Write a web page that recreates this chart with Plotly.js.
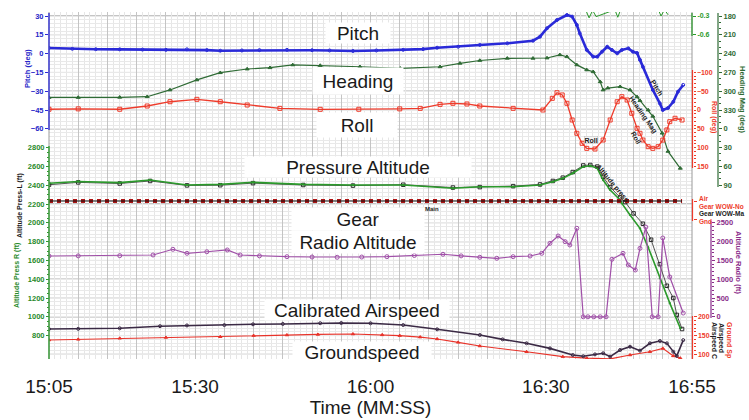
<!DOCTYPE html>
<html><head><meta charset="utf-8">
<script src="https://cdn.plot.ly/plotly-3.0.1.min.js"></script>
<style>html,body{margin:0;padding:0;background:#fff}#chart{width:749px;height:420px}</style>
</head><body><div id="chart"></div>
<script>
// ---------------- DATA (time in seconds: 905 = 15:05) ----------------
const xTickVals = [905, 930, 960, 990, 1015];
const xTickText = ['15:05', '15:30', '16:00', '16:30', '16:55'];

const pitchT = [905,909,913,917.1,921,925,928.6,932,934.3,938,941,945.7,950,953,957,961,965.6,969,971.4,975,978.7,983.4,987.8,989,990.2,991.9,993.6,994.5,995.3,995.8,997,998.1,998.8,999.6,1000.5,1001.3,1002.2,1003,1004.1,1004.9,1005.6,1006.1,1006.6,1008.3,1009.5,1010,1010.9,1011.8,1012.6,1013.5];
const pitchV = [4.5,3.8,3.5,3.4,3.2,3.0,3.4,2.8,2.3,2.5,2.8,3.0,2.7,2.5,2.1,2.5,3.0,3.6,4.7,5.5,6.9,8.2,10.3,13.5,20.2,26.8,30.8,29.5,22.8,16.2,2.9,-2.5,-2.5,1.5,5.5,2.9,0.2,2.9,4.2,1.5,0.5,-5,-10.5,-29,-39.7,-45,-43.4,-38.4,-30.4,-25];

const hdgT = [905,910,917.1,921.8,925.7,930.3,934.3,938.9,942.8,946.7,951.4,958.2,965.1,971.9,975.3,978.7,983.4,987.8,990.2,992.4,993.6,995.3,997,998.1,999.3,999.8,1000.6,1002.7,1004.4,1005.6,1006.1,1007.5,1008.3,1009.9,1010.9,1013];
const hdgV = [310,310,309.7,308.8,298,282,270.5,264.6,262.5,258,259,261,263.5,261,255.5,251,247.5,247.5,247,242,245,258,266,269,285,298,295,292.8,298,309,315,330,340,367,396,423];

const rollT = [905,910,917.1,921.8,925.7,930.3,934.3,938.9,944.5,951.4,958,965,968.5,971.9,974.1,976.5,978.7,984.4,989.5,991.1,991.9,992.8,993.6,994.5,995.3,996.2,997,998.4,999.8,1001,1002.2,1003,1003.9,1004.7,1005.6,1006.1,1006.6,1007.5,1008.3,1009.2,1010,1010.7,1011.2,1012.1,1013.3];
const rollV = [-2,-3,-2,-10.6,-22,-28.4,-22,-13.3,-4.4,-1.8,-2,-3,-4.4,-15,-17.8,-16,-10.6,-4.4,0,-31,-46,-40,-17.8,26.6,62,88.6,102,103.7,79.8,26.6,-22,-35.4,-26.6,8.8,48.7,62,79.8,97.6,102,97.6,80,53,31,22,26.6];

const accT = [996.8,997.4,998,998.6,1001.8,1002.3,1002.8,1009.2,1009.7,1010.3,1010.9];
const accV = [-0.2,-0.33,-0.21,-0.31,-0.2,-0.32,-0.2,-0.19,-0.3,-0.2,-0.28];

const presRT = [905,910,917.1,922.3,928.6,934.3,939.9,948.5,957,965.6,974.1,978.7,984.4,989,991.2,992.9,994.6,996.4,997.6,998.8,999.8,1001,1002.7,1003,1004.4,1006.1,1007.5,1009.5,1011.2,1013];
const presRV = [2420,2440,2427,2455,2402,2409,2431,2409,2402,2402,2367,2384,2384,2402,2437,2473,2527,2597,2607,2580,2455,2349,2243,2207,2083,1941,1740,1412,1146,878];
const presLT = [905,910,917.1,922.3,928.6,934.3,939.9,948.5,957,965.6,974.1,978.7,984.4,989,991.2,992.9,994.6,996.4,997.6,998.8,999.8,1001,1002.7,1003.6,1005,1006.6,1008,1009.5,1010.7,1011.8,1012.4,1013.3];
const presLV = [2405,2430,2418,2445,2398,2400,2422,2402,2396,2405,2375,2380,2390,2408,2445,2480,2540,2610,2615,2598,2490,2380,2270,2220,2100,1990,1820,1560,1330,1200,1020,870];

const gearT = [905, 1013.3];
const gearNose = [1, 1];
const gearMain = [1, 1];

const radT = [905,910,917.1,922.8,926.2,928.6,932,935.5,937.7,941,945.7,950,954.3,958.5,962.8,967.5,972.4,975.5,978.7,981.6,984.4,987.3,989.3,990.7,992.1,993.3,994.1,995.3,996.4,997.2,998.2,999.3,1000.3,1001.3,1003.2,1004.1,1005.3,1006.1,1007.1,1008.2,1009.2,1010,1011.2,1013.5];
const radV = [1617,1620,1626,1644,1796,1689,1730,1777,1644,1620,1599,1590,1583,1590,1599,1630,1663,1620,1583,1556,1599,1617,1689,1955,2149,1998,1910,2354,0,0,0,0,0,1530,1689,1378,1245,1822,2386,0,0,2096,1059,100];

const casT = [905,910,917.1,924,928.6,935,939.9,945,951.4,955,960,965.6,971.4,978.7,982.6,986.7,990.7,994.6,996.4,998.4,999.8,1001,1002.7,1004.4,1006.1,1007.8,1009.5,1010.7,1011.8,1012.4,1013.5];
const casV = [167.5,168,169.4,175,177,178,180,181,183,183.5,182.7,178,166.7,151.6,140,129.5,116,98.4,95,100,103,94,111.7,120.5,110,129.5,135.6,129.5,107,96,138];

const gsT = [905,910,917.1,925,934.3,940,945.7,951,957,962,965,968.5,971.4,975,978.7,986.7,992.9,997,1001,1004.4,1007.8,1010,1011.8,1013];
const gsV = [138.3,140,142.8,145,147,150,151.6,153,154.2,152,150,146,141,132,122.3,107,94,90,88,98.4,107,116,96,90];

// ---------------- LAYOUT HELPERS ----------------
const PT = 12, PB = 359, PL = 49, PR = 692, PW = 696, PH = 347;
function rangeFor(v0, p0, v1, p1) { const s = (v1 - v0) / (p1 - p0); return [v0 + s * (PB - p0), v0 + s * (PT - p0)]; }
function px(x) { return (x - PL) / PW; }
function py(y) { return (PB - y) / PH; }
const FONT = 'Liberation Sans, Arial, sans-serif';
function tf(color, size) { return {family: FONT, size: size || 7.5, color: color, weight: 'bold'}; }
function steps(a, b, st, skip) { const o = []; for (let v = a; v <= b + 1e-9; v += st) { if (!skip || Math.abs(((v - a) / skip) - Math.round((v - a) / skip)) > 1e-6) o.push(+v.toFixed(4)); } return o; }

const C = {
  pitch: '#2a2ad8', pitchT: '#2626c8', hdg: '#2f6b35', roll: '#ee3b2b', acc: '#2a9a2a', pres: '#2b9a2b', presT: '#2a8a2a',
  presL: '#2a2a2a', gear: '#b01515', rad: '#a050a8', radT: '#8a2d8a', cas: '#3b2a45', gs: '#e8332a'
};

function yax(o) {
  return Object.assign({overlaying: 'y', anchor: 'free', showgrid: false, zeroline: false, showline: false,
    ticks: 'outside', ticklen: 3, tickwidth: 1, tickmode: 'array', fixedrange: true}, o);
}
function minor(vals, color) { return {tickmode: 'array', tickvals: vals, ticks: 'outside', ticklen: 2, tickcolor: color, showgrid: false}; }

const xGridVals = steps(905, 1015, 5);
const xGridText = xGridVals.map(v => { const i = xTickVals.indexOf(v); return i >= 0 ? xTickText[i] : ''; });
const hdgTicks = steps(180, 450, 30);
const hdgText = hdgTicks.map(v => String(v % 360));

function tr(x, y, yaxis, color, width, symbol, msize, extra) {
  return Object.assign({type: 'scatter', mode: 'lines+markers', x: x, y: y, xaxis: 'x', yaxis: yaxis,
    line: {color: color, width: width}, marker: {symbol: symbol, size: msize, color: color, line: {color: color, width: 1}},
    hoverinfo: 'skip', showlegend: false}, extra || {});
}

const data = [
  tr(pitchT, pitchV, 'y', C.pitch, 2.6, 'circle-open', 3),
  tr(gearT, gearNose, 'y8', C.gear, 4, 'circle', 1, {mode: 'lines', line: {color: C.gear, width: 4, dash: 'dot'}}),
  tr(gearT, gearMain, 'y8', '#111', 1.2, 'circle', 1, {mode: 'lines'}),
  tr(gsT, gsV, 'y10', C.gs, 1.2, 'triangle-up', 3),
  tr(casT, casV, 'y10', C.cas, 1.6, 'circle-open', 3),
  tr(radT, radV, 'y9', C.rad, 1.2, 'circle-open', 4),
  tr(presLT, presLV, 'y7', C.presL, 0.8, 'square-open', 3.5),
  tr(presRT, presRV, 'y7', C.pres, 1.6, 'circle', 1.5),
  tr(accT, accV, 'y6', C.acc, 1, 'circle', 1, {mode: 'lines'}),
  tr(rollT, rollV, 'y5', C.roll, 1.3, 'square-open', 4),
  tr(hdgT, hdgV, 'y4', C.hdg, 1.2, 'triangle-up', 3.5)
];

const layout = {
  width: 749, height: 420,
  margin: {l: PL, r: 749 - PL - PW, t: PT, b: 420 - PB},
  paper_bgcolor: '#fff', plot_bgcolor: '#fff',
  showlegend: false,
  font: {family: FONT, color: '#1a1a1a'},
  xaxis: {
    domain: [0, (PR - PL) / PW], range: [905, 1015], fixedrange: true,
    tickmode: 'array', tickvals: xGridVals, ticktext: xGridText,
    ticks: '', ticklabelstandoff: 14, tickfont: {family: FONT, size: 19, color: '#1a1a1a'},
    showgrid: true, gridcolor: '#c4c4c4', gridwidth: 1,
    minor: {tickmode: 'linear', tick0: 905, dtick: 1, showgrid: true, gridcolor: '#e6e6e6', gridwidth: 1, ticks: ''},
    zeroline: false, showline: false,
    title: {text: 'Time (MM:SS)', font: {family: FONT, size: 19, color: '#1a1a1a'}, standoff: 4}
  },
  yaxis: {
    domain: [0, 1], anchor: 'x', side: 'left', range: rangeFor(30, 16, -60, 128.8), fixedrange: true,
    tickmode: 'array', tickvals: [30, 15, 0, -15, -30, -45, -60], ticks: 'outside', ticklen: 3, tickcolor: C.pitch,
    tickfont: tf(C.pitchT), showgrid: false,
    minor: {tickmode: 'linear', tick0: 0, dtick: 3, showgrid: true, gridcolor: '#e9e9e9', gridwidth: 1, ticks: ''},
    zeroline: false, showline: false
  },
  yaxis4: yax({side: 'right', position: px(718), range: rangeFor(180, 16, 450, 185.2),
    tickvals: hdgTicks, ticktext: hdgText, tickcolor: C.hdg, tickfont: tf(C.hdg),
    minor: minor(steps(180, 450, 10, 30), C.hdg)}),
  yaxis5: yax({side: 'right', position: px(692.5), range: rangeFor(-100, 72.4, 150, 166.4), ticklen: 2,
    tickvals: [-100, -50, 0, 50, 100, 150], tickcolor: C.roll, tickfont: tf(C.roll, 7),
    minor: minor(steps(-100, 150, 10, 50), C.roll)}),
  yaxis6: yax({side: 'right', position: px(692), range: rangeFor(-0.3, 16, -0.6, 34.8),
    tickvals: [-0.3, -0.6], ticktext: ['-0.3', '-0.6'], tickcolor: C.acc, tickfont: tf(C.acc, 7)}),
  yaxis7: yax({side: 'left', position: 0, range: rangeFor(2800, 147.6, 800, 335.6),
    tickvals: steps(800, 2800, 200), tickcolor: C.pres, tickfont: tf(C.presT),
    minor: minor(steps(800, 2800, 50, 200), C.pres)}),
  yaxis8: yax({side: 'right', position: px(692.5), range: rangeFor(1, 201, 0, 219),
    tickvals: [1, 0], showticklabels: false, ticklen: 3, tickcolor: C.roll}),
  yaxis9: yax({side: 'right', position: px(711), range: rangeFor(2500, 222.8, 0, 316.8),
    tickvals: steps(0, 2500, 500), tickcolor: C.radT, tickfont: tf(C.radT),
    minor: minor(steps(0, 2500, 100, 500), C.radT)}),
  yaxis10: yax({side: 'right', position: px(692.5), range: rangeFor(200, 316.8, 100, 354.4),
    tickvals: [200, 150, 100], tickcolor: C.roll, tickfont: tf(C.roll, 7),
    minor: minor(steps(100, 200, 10, 50), C.roll)})
};

function vline(x, y0, y1, color, w) { return {type: 'line', xref: 'paper', yref: 'paper', x0: px(x), x1: px(x), y0: py(y0), y1: py(y1), line: {color: color, width: w || 1}}; }
const shapes = [];
for (let k = 0; k <= 18; k++) {
  const yy = 16 + k * 18.8;
  shapes.push({type: 'line', layer: 'between', xref: 'paper', yref: 'paper', x0: 0, x1: px(692), y0: py(yy), y1: py(yy),
    line: {color: k % 2 === 0 ? '#b2b2b2' : '#cbcbcb', width: k % 2 === 0 ? 1.3 : 1}});
}
shapes.push(
  vline(49, 12, 359, '#9a9a9a'),
  vline(692, 12, 359, '#9a9a9a'),
  vline(49, 13, 130, C.pitch, 1.3),
  vline(49, 146, 359, C.pres, 1.3),
  vline(692, 13, 36, C.acc, 1.2),
  vline(718, 13, 187, C.hdg, 1.2),
  vline(692.5, 70, 168, C.roll, 1.2),
  vline(692.5, 199, 221, C.roll, 1.2),
  vline(711, 221, 318, C.radT, 1.2),
  vline(692.5, 316, 359, C.roll, 1.2)
);
layout.shapes = shapes;

function box(text, cx, cy, w, h) {
  return {text: text, xref: 'paper', yref: 'paper', x: px(cx), y: py(cy), xanchor: 'center', yanchor: 'middle',
    showarrow: false, bgcolor: '#ffffff', width: w, height: h, borderpad: 0,
    font: {family: FONT, size: 19, color: '#1a1a1a'}};
}
function lab(text, cx, cy, color, size, angle, extra) {
  return Object.assign({text: text, xref: 'paper', yref: 'paper', x: px(cx), y: py(cy), xanchor: 'center', yanchor: 'middle',
    showarrow: false, textangle: angle || 0, font: tf(color, size)}, extra || {});
}
layout.annotations = [
  box('Pitch', 358, 33, 64, 20),
  box('Heading', 358, 81, 90, 26),
  box('Roll', 357, 125, 80, 24),
  box('Pressure Altitude', 358, 167, 226, 20),
  box('Gear', 358, 219, 132, 22),
  box('Radio Altitude', 358, 242, 132, 22),
  box('Calibrated Airspeed', 357, 310, 184, 20),
  box('Groundspeed', 362, 352, 138, 20),
  lab('Pitch (deg)', 27, 68, C.pitchT, 7.5, -90),
  lab('Altitude Press-L (ft)', 20, 206, '#1a1a1a', 7, -90),
  lab('Altitude Press R (ft)', 17, 276, C.presT, 7, -90),
  lab('Heading Mag (deg)', 743, 100, C.hdg, 7.5, 90),
  lab('Roll (deg)', 714, 117, C.roll, 7, 90),
  lab('Altitude Radio (ft)', 739, 262, C.radT, 7.5, 90),
  lab('Airspeed C', 714, 340, '#1a1a1a', 7, 90),
  lab('Airspeed', 721, 338, '#1a1a1a', 7, 90),
  lab('Ground Sp', 729, 340, C.roll, 7, 90),
  lab('Air', 697, 198.5, C.roll, 6.5, 0, {xanchor: 'left'}),
  lab('Gear WOW-No', 697, 206, C.roll, 6.5, 0, {xanchor: 'left'}),
  lab('Gear WOW-Ma', 697, 213.5, '#1a1a1a', 6.5, 0, {xanchor: 'left'}),
  lab('Gnd', 697, 221, C.roll, 6.5, 0, {xanchor: 'left'}),
  lab('Main', 432, 209, '#1a1a1a', 6, 0),
  lab('Pitch', 657, 87, '#1a1a1a', 7, 58),
  lab('Heading Mag', 643, 115, '#1a1a1a', 7, 55),
  lab('Roll', 636, 137, '#1a1a1a', 7, 60),
  lab('Roll', 591, 140, '#1a1a1a', 7, 0, {bgcolor: '#f4f4f4', bordercolor: '#bbbbbb', borderwidth: 0.5, borderpad: 0}),
  lab('Altitude press', 612, 183, '#1a1a1a', 7, 50)
];

Plotly.newPlot('chart', data, layout, {displayModeBar: false, staticPlot: true});
</script>
</body></html>
